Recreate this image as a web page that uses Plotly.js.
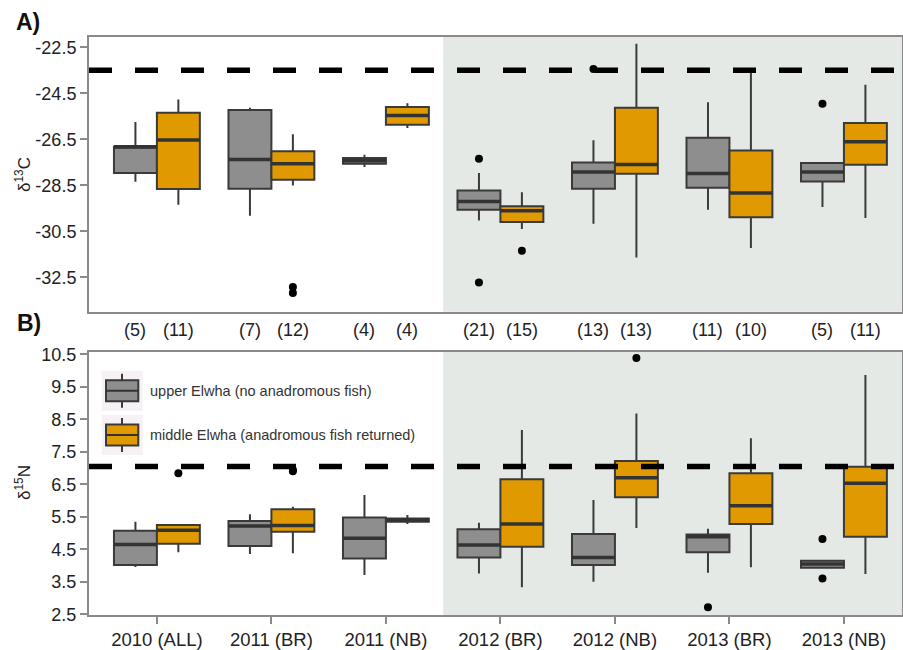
<!DOCTYPE html>
<html>
<head>
<meta charset="utf-8">
<script src="https://cdn.plot.ly/plotly-3.0.1.min.js"></script>
<style>html,body{margin:0;padding:0;background:#fff;overflow:hidden}</style>
</head>
<body>
<div id="chart" style="width:903px;height:650px"></div>
<script>
// Categories
const categories = ["2010 (ALL)", "2011 (BR)", "2011 (NB)", "2012 (BR)", "2012 (NB)", "2013 (BR)", "2013 (NB)"];
const seriesNames = ["upper Elwha (no anadromous fish)", "middle Elwha (anadromous fish returned)"];

// Sample sizes
const nUpper = [5, 7, 4, 21, 13, 11, 5];
const nMiddle = [11, 12, 4, 15, 13, 10, 11];

// Panel A: d13C, upper Elwha
const cUpperLow = [-28.34, -29.82, -27.70, -30.02, -30.17, -29.56, -29.44];
const cUpperQ1 = [-27.96, -28.64, -27.56, -29.56, -28.64, -28.60, -28.33];
const cUpperMed = [-26.82, -27.37, -27.43, -29.20, -27.92, -27.98, -27.92];
const cUpperQ3 = [-26.82, -25.22, -27.31, -28.72, -27.50, -26.43, -27.53];
const cUpperHigh = [-25.74, -25.13, -27.17, -27.96, -26.54, -24.89, -27.53];
const cUpperOutCat = [3, 3, 4, 6];
const cUpperOutVal = [-27.34, -32.72, -23.44, -24.95];

// Panel A: d13C, middle Elwha
const cMiddleLow = [-29.34, -28.50, -26.00, -30.40, -31.63, -31.22, -29.92];
const cMiddleQ1 = [-28.66, -28.25, -25.86, -30.09, -27.99, -29.88, -27.60];
const cMiddleMed = [-26.53, -27.56, -25.46, -29.60, -27.59, -28.83, -26.60];
const cMiddleQ3 = [-25.34, -27.02, -25.09, -29.41, -25.13, -26.98, -25.79];
const cMiddleHigh = [-24.77, -26.28, -24.93, -28.80, -22.34, -23.61, -24.12];
const cMiddleOutCat = [1, 1, 3];
const cMiddleOutVal = [-32.92, -33.18, -31.34];

// Panel B: d15N, upper Elwha
const nUpperLow = [3.96, 4.36, 3.71, 3.76, 3.50, 3.78, 3.93];
const nUpperQ1 = [4.02, 4.60, 4.22, 4.25, 4.02, 4.41, 3.93];
const nUpperMed = [4.65, 5.22, 4.84, 4.63, 4.25, 4.89, 4.05];
const nUpperQ3 = [5.07, 5.37, 5.48, 5.12, 4.97, 4.96, 4.15];
const nUpperHigh = [5.35, 5.58, 6.17, 5.32, 6.02, 5.13, 4.15];
const nUpperOutCat = [5, 6, 6];
const nUpperOutVal = [2.72, 4.82, 3.60];

// Panel B: d15N, middle Elwha
const nMiddleLow = [4.41, 4.38, 5.28, 3.33, 5.16, 3.95, 3.74];
const nMiddleQ1 = [4.67, 5.04, 5.35, 4.58, 6.10, 5.28, 4.89];
const nMiddleMed = [5.09, 5.23, 5.40, 5.28, 6.70, 5.84, 6.53];
const nMiddleQ3 = [5.25, 5.73, 5.45, 6.66, 7.22, 6.84, 7.04];
const nMiddleHigh = [5.28, 5.81, 5.56, 8.17, 8.68, 7.92, 9.86];
const nMiddleOutCat = [0, 1, 1, 4];
const nMiddleOutVal = [6.84, 6.95, 6.90, 10.39];

// Reference (dashed) lines
const refC = -23.5;
const refN = 7.05;

const cTicks = [-22.5, -24.5, -26.5, -28.5, -30.5, -32.5];
const nTicks = [2.5, 3.5, 4.5, 5.5, 6.5, 7.5, 8.5, 9.5, 10.5];

// ---- styling / layout ----
const GREY = '#8e8e8e', ORANGE = '#e09a00', EDGE = '#3a3a3a';
const OFF = 0.1875, BW = 0.375;
const idx = categories.map((_, i) => i);
const posU = idx.map(i => i - OFF);
const posM = idx.map(i => i + OFF);
const FONT = 'Liberation Sans, Arial, sans-serif';

function boxTrace(pos, low, q1, med, q3, high, fill, xa, ya, name) {
  return {
    type: 'box', name: name, x: pos, q1: q1, median: med, q3: q3,
    lowerfence: low, upperfence: high, width: BW, whiskerwidth: 0,
    boxpoints: false, fillcolor: fill, line: {color: EDGE, width: 2},
    xaxis: xa, yaxis: ya, showlegend: false, hoverinfo: 'skip'
  };
}
function medTrace(pos, med, xa, ya) {
  const xs = [], ys = [];
  pos.forEach((p, i) => { xs.push(p - BW / 2, p + BW / 2, null); ys.push(med[i], med[i], null); });
  return {type: 'scatter', mode: 'lines', x: xs, y: ys, line: {color: '#333', width: 3.5},
          xaxis: xa, yaxis: ya, showlegend: false, hoverinfo: 'skip'};
}
function outTrace(cats, vals, off, xa, ya) {
  return {type: 'scatter', mode: 'markers', x: cats.map(c => c + off), y: vals,
          marker: {color: '#000', size: 8}, xaxis: xa, yaxis: ya, showlegend: false, hoverinfo: 'skip'};
}

const data = [
  boxTrace(posU, cUpperLow, cUpperQ1, cUpperMed, cUpperQ3, cUpperHigh, GREY, 'x', 'y', seriesNames[0]),
  boxTrace(posM, cMiddleLow, cMiddleQ1, cMiddleMed, cMiddleQ3, cMiddleHigh, ORANGE, 'x', 'y', seriesNames[1]),
  medTrace(posU, cUpperMed, 'x', 'y'), medTrace(posM, cMiddleMed, 'x', 'y'),
  outTrace(cUpperOutCat, cUpperOutVal, -OFF, 'x', 'y'),
  outTrace(cMiddleOutCat, cMiddleOutVal, OFF, 'x', 'y'),
  boxTrace(posU, nUpperLow, nUpperQ1, nUpperMed, nUpperQ3, nUpperHigh, GREY, 'x2', 'y2', seriesNames[0]),
  boxTrace(posM, nMiddleLow, nMiddleQ1, nMiddleMed, nMiddleQ3, nMiddleHigh, ORANGE, 'x2', 'y2', seriesNames[1]),
  medTrace(posU, nUpperMed, 'x2', 'y2'), medTrace(posM, nMiddleMed, 'x2', 'y2'),
  outTrace(nUpperOutCat, nUpperOutVal, -OFF, 'x2', 'y2'),
  outTrace(nMiddleOutCat, nMiddleOutVal, OFF, 'x2', 'y2')
];

const XR = [-0.593, 6.507];
const axisLine = {showline: true, mirror: true, linecolor: '#8a8a8a', linewidth: 2, showgrid: false, zeroline: false};
const tickFont = {family: FONT, size: 18, color: '#222'};

const shapes = [];
['y', 'y2'].forEach((ya, k) => {
  const xa = k === 0 ? 'x' : 'x2';
  shapes.push({type: 'rect', xref: xa, yref: ya + ' domain', x0: 2.5, x1: XR[1], y0: 0, y1: 1,
               fillcolor: '#e5e9e6', line: {width: 0}, layer: 'below'});
  shapes.push({type: 'line', xref: xa + ' domain', yref: ya, x0: 0, x1: 1,
               y0: k === 0 ? refC : refN, y1: k === 0 ? refC : refN,
               line: {color: '#000', width: 5.5, dash: '23px,23px'}, layer: 'above'});
});

function px(p) { return (p - 89) / 813; }
function py(p) { return 1 - (p - 37) / 578; }

// custom legend (upper-left of panel B)
const legendRows = [{y: 390.7, fill: GREY}, {y: 435, fill: ORANGE}];
const annotations = [];
legendRows.forEach((r, k) => {
  shapes.push({type: 'rect', xref: 'paper', yref: 'paper', x0: px(101.7), x1: px(142.7), y0: py(r.y - 20), y1: py(r.y + 20),
               fillcolor: '#f5f1f5', line: {width: 0}, layer: 'above'});
  shapes.push({type: 'line', xref: 'paper', yref: 'paper', x0: px(122), x1: px(122), y0: py(r.y - 17), y1: py(r.y + 17),
               line: {color: EDGE, width: 2}, layer: 'above'});
  shapes.push({type: 'rect', xref: 'paper', yref: 'paper', x0: px(106), x1: px(138.3), y0: py(r.y - 10.5), y1: py(r.y + 10.5),
               fillcolor: r.fill, line: {color: EDGE, width: 2}, layer: 'above'});
  shapes.push({type: 'line', xref: 'paper', yref: 'paper', x0: px(106), x1: px(138.3), y0: py(r.y), y1: py(r.y),
               line: {color: '#333', width: 2}, layer: 'above'});
  annotations.push({xref: 'paper', yref: 'paper', x: px(148), y: py(r.y), xanchor: 'left', yanchor: 'middle',
                    text: seriesNames[k], showarrow: false, font: {family: FONT, size: 14.5, color: '#333'}});
});

// sample sizes
idx.forEach(i => {
  annotations.push({xref: 'x', yref: 'paper', x: posU[i], y: py(330), text: '(' + nUpper[i] + ')',
                    showarrow: false, font: tickFont, yanchor: 'middle'});
  annotations.push({xref: 'x', yref: 'paper', x: posM[i], y: py(330), text: '(' + nMiddle[i] + ')',
                    showarrow: false, font: tickFont, yanchor: 'middle'});
});
annotations.push({xref: 'paper', yref: 'paper', x: px(14), y: py(22), xanchor: 'left', yanchor: 'middle',
                  text: '<b>A)</b>', showarrow: false, font: {family: FONT, size: 23, color: '#111'}});
annotations.push({xref: 'paper', yref: 'paper', x: px(15), y: py(323), xanchor: 'left', yanchor: 'middle',
                  text: '<b>B)</b>', showarrow: false, font: {family: FONT, size: 23, color: '#111'}});
annotations.push({xref: 'paper', yref: 'paper', x: px(23), y: py(175), xanchor: 'center', yanchor: 'middle', textangle: -90,
                  text: 'δ<sup>13</sup>C', showarrow: false, font: {family: FONT, size: 17, color: '#222'}});
annotations.push({xref: 'paper', yref: 'paper', x: px(23), y: py(483), xanchor: 'center', yanchor: 'middle', textangle: -90,
                  text: 'δ<sup>15</sup>N', showarrow: false, font: {family: FONT, size: 17, color: '#222'}});

const layout = {
  width: 903, height: 650,
  margin: {l: 89, r: 1, t: 37, b: 35},
  paper_bgcolor: '#fff', plot_bgcolor: '#fff',
  showlegend: false, boxmode: 'overlay',
  font: {family: FONT, color: '#222'},
  xaxis: Object.assign({}, axisLine, {range: XR, anchor: 'y', showticklabels: false, ticks: '', domain: [0, 1]}),
  yaxis: Object.assign({}, axisLine, {range: [-33.99, -22.05], domain: [0.5247, 1], anchor: 'x',
    tickvals: cTicks, ticktext: cTicks.map(v => v.toFixed(1)), ticks: 'outside', ticklen: 7, tickcolor: '#8a8a8a', tickwidth: 2, tickfont: tickFont}),
  xaxis2: Object.assign({}, axisLine, {range: XR, anchor: 'y2', domain: [0, 1],
    tickvals: idx, ticktext: categories, ticks: 'outside', ticklen: 7, tickcolor: '#8a8a8a', tickwidth: 2,
    tickfont: {family: FONT, size: 18.5, color: '#222'}}),
  yaxis2: Object.assign({}, axisLine, {range: [2.48, 10.58], domain: [0, 0.4555], anchor: 'x2',
    tickvals: nTicks, ticktext: nTicks.map(v => v.toFixed(1)), ticks: 'outside', ticklen: 7, tickcolor: '#8a8a8a', tickwidth: 2, tickfont: tickFont}),
  shapes: shapes,
  annotations: annotations
};

Plotly.newPlot('chart', data, layout, {displayModeBar: false, staticPlot: true});
</script>
</body>
</html>
